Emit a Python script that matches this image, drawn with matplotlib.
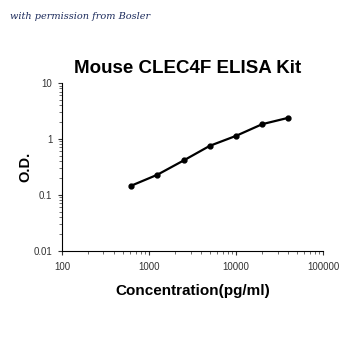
import numpy as np
from matplotlib import pyplot as plt
from matplotlib.ticker import LogLocator, FixedLocator, FixedFormatter

plt.rcParams['font.family'] = ['Liberation Sans', 'DejaVu Sans']

conc = [625, 1250, 2500, 5000, 10000, 20000, 40000]
od = [0.145, 0.228, 0.41, 0.75, 1.13, 1.83, 2.38]

xticks = [100, 1000, 10000, 100000]
xlabels = ['100', '1000', '10000', '100000']
yticks = [0.01, 0.1, 1, 10]
ylabels = ['0.01', '0.1', '1', '10']

fig = plt.figure(figsize=(3.5, 3.5), dpi=100)
ax = fig.add_axes([0.177, 0.284, 0.746, 0.479])

ax.plot(conc, od, color='black', lw=1.6, marker='o', ms=3.5)
ax.set_xscale('log')
ax.set_yscale('log')
ax.set_xlim(100, 100000)
ax.set_ylim(0.01, 10)

ax.xaxis.set_major_locator(FixedLocator(xticks))
ax.xaxis.set_major_formatter(FixedFormatter(xlabels))
ax.yaxis.set_major_locator(FixedLocator(yticks))
ax.yaxis.set_major_formatter(FixedFormatter(ylabels))
ax.xaxis.set_minor_locator(LogLocator(base=10, subs=np.arange(2, 10)))
ax.yaxis.set_minor_locator(LogLocator(base=10, subs=np.arange(2, 10)))
ax.xaxis.set_minor_formatter(plt.NullFormatter())
ax.yaxis.set_minor_formatter(plt.NullFormatter())

ax.spines['top'].set_visible(False)
ax.spines['right'].set_visible(False)
ax.tick_params(which='major', length=3, width=0.8, labelsize=7, colors='#333333')
ax.tick_params(axis='x', which='major', pad=5)
ax.tick_params(axis='y', which='major', pad=4)
ax.tick_params(which='minor', length=2, width=0.6, colors='#555555')

ax.set_title('Mouse CLEC4F ELISA Kit', fontsize=13.5, fontweight='bold', pad=7, x=0.48)
ax.set_xlabel('Concentration(pg/ml)', fontsize=11, fontweight='bold', labelpad=9)
ax.set_ylabel('O.D.', fontsize=10.5, fontweight='bold', labelpad=1)

fig.text(0.03, 0.945, 'with permission from Bosler', fontsize=7, style='italic',
         family='DejaVu Serif', color='#1c2b5c')

plt.savefig('out.png')
